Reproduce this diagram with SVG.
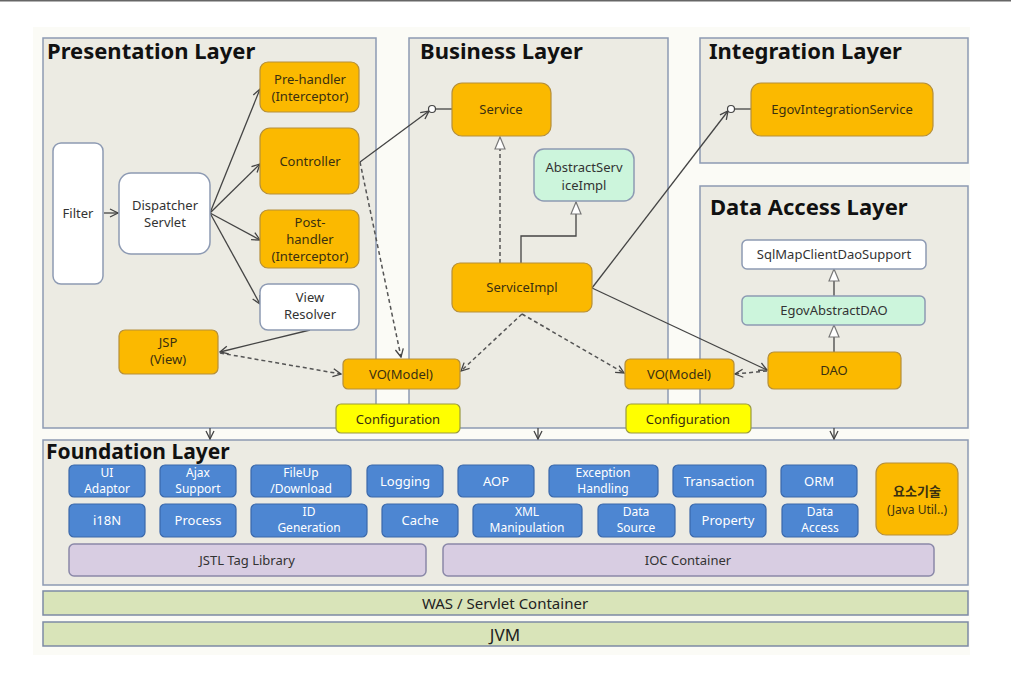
<svg xmlns="http://www.w3.org/2000/svg" width="1011" height="674" viewBox="0 0 1011 674">
<style>
.layer{fill:#ecebe3;stroke:#8d9ab3;stroke-width:1.5}
.title{font-family:"Noto Sans","Open Sans",sans-serif;font-weight:bold;font-size:22px;fill:#111}
.t{font-family:"Noto Sans","Noto Sans CJK KR",sans-serif;font-size:13px;text-anchor:middle;fill:#3a3010}
.tw{font-family:"Noto Sans","Noto Sans CJK KR",sans-serif;font-size:13px;text-anchor:middle;fill:#ffffff}
.tw2{font-family:"Noto Sans","Noto Sans CJK KR",sans-serif;font-size:12px;text-anchor:middle;fill:#ffffff}
.tg{font-family:"Noto Sans","Noto Sans CJK KR",sans-serif;font-size:13px;text-anchor:middle;fill:#333}
.or{fill:#fbb900;stroke:#b58f3a;stroke-width:1.2}
.wh{fill:#ffffff;stroke:#8d9ab3;stroke-width:1.5}
.gr{fill:#ccf5dc;stroke:#8d9ab3;stroke-width:1.5}
.ye{fill:#ffff00;stroke:#9a9a40;stroke-width:1.2}
.bl{fill:#4d86d2;stroke:#3a68aa;stroke-width:1.2}
.pu{fill:#d8cde2;stroke:#8a88a8;stroke-width:1.5}
.gb{fill:#d9e4b9;stroke:#7d8aa5;stroke-width:1.5}
.ln{fill:none;stroke:#444;stroke-width:1.3}
.dl{fill:none;stroke:#555;stroke-width:1.5;stroke-dasharray:4,3}
</style>
<defs>
<marker id="arr" viewBox="0 0 10 10" refX="9" refY="5" markerWidth="10" markerHeight="10" markerUnits="userSpaceOnUse" orient="auto">
<path d="M1,1 L9,5 L1,9" fill="none" stroke="#444" stroke-width="1.3"/>
</marker>
<marker id="tri" viewBox="0 0 14 12" refX="13" refY="6" markerWidth="14" markerHeight="12" markerUnits="userSpaceOnUse" orient="auto">
<path d="M1,1 L13,6 L1,11 Z" fill="#fff" stroke="#777" stroke-width="1.2"/>
</marker>
</defs>
<rect x="0" y="0" width="1011" height="674" fill="#ffffff"/>
<line x1="0" y1="0.5" x2="1011" y2="0.5" stroke="#666" stroke-width="2"/>
<rect x="33" y="27" width="937" height="628" fill="#fbfbf6"/>

<g id="presentation-layer">
<rect class="layer" x="43" y="38" width="333" height="390"/>
<text class="title" x="47" y="59">Presentation Layer</text>
</g>
<g id="business-layer">
<rect class="layer" x="409" y="38" width="259" height="390"/>
<text class="title" x="420" y="59">Business Layer</text>
</g>
<g id="integration-layer">
<rect class="layer" x="700" y="38" width="268" height="125"/>
<text class="title" x="709" y="59">Integration Layer</text>
</g>
<g id="data-access-layer">
<rect class="layer" x="700" y="186" width="268" height="242"/>
<text class="title" x="710" y="215">Data Access Layer</text>
</g>
<g id="foundation-layer">
<rect class="layer" x="43" y="440" width="925" height="145"/>
<text class="title" x="46" y="459" style="font-size:21px">Foundation Layer</text>
</g>

<g id="connectors">
<line class="ln" x1="104" y1="213" x2="118" y2="213" marker-end="url(#arr)"/>
<line class="ln" x1="210" y1="213" x2="260" y2="89" marker-end="url(#arr)"/>
<line class="ln" x1="210" y1="213" x2="260" y2="164" marker-end="url(#arr)"/>
<line class="ln" x1="210" y1="213" x2="260" y2="240" marker-end="url(#arr)"/>
<line class="ln" x1="210" y1="213" x2="260" y2="304" marker-end="url(#arr)"/>
<line class="ln" x1="310" y1="330" x2="220" y2="352" marker-end="url(#arr)"/>
<line class="dl" x1="220" y1="353" x2="341" y2="374" marker-end="url(#arr)"/>
<line class="dl" x1="360" y1="162" x2="401" y2="357" marker-end="url(#arr)"/>
<line class="ln" x1="360" y1="162" x2="429" y2="111" marker-end="url(#arr)"/>
<line class="ln" x1="436" y1="109" x2="452" y2="109"/>
<circle cx="432" cy="109" r="3.5" fill="#fff" stroke="#444" stroke-width="1.2"/>
<line class="dl" x1="500" y1="263" x2="500" y2="137" marker-end="url(#tri)"/>
<polyline class="ln" points="521,263 521,236 576,236 576,202" marker-end="url(#tri)"/>
<line class="ln" x1="592" y1="288" x2="728" y2="111" marker-end="url(#arr)"/>
<line class="ln" x1="735" y1="109" x2="751" y2="109"/>
<circle cx="731" cy="109" r="3.5" fill="#fff" stroke="#444" stroke-width="1.2"/>
<line class="ln" x1="592" y1="288" x2="767" y2="370" marker-end="url(#arr)"/>
<line class="dl" x1="522" y1="314" x2="461" y2="371" marker-end="url(#arr)"/>
<line class="dl" x1="522" y1="314" x2="624" y2="373" marker-end="url(#arr)"/>
<line class="dl" x1="767" y1="371" x2="735" y2="374" marker-end="url(#arr)"/>
<line class="ln" x1="834" y1="296" x2="834" y2="269" marker-end="url(#tri)"/>
<line class="ln" x1="834" y1="352" x2="834" y2="325" marker-end="url(#tri)"/>
<line class="ln" x1="210" y1="428" x2="210" y2="439" marker-end="url(#arr)"/>
<line class="ln" x1="538" y1="428" x2="538" y2="439" marker-end="url(#arr)"/>
<line class="ln" x1="834" y1="428" x2="834" y2="439" marker-end="url(#arr)"/>
</g>

<g id="filter"><rect class="wh" x="53" y="143" width="50" height="141" rx="8"/><text class="tg" x="78" y="218">Filter</text></g>
<g id="dispatcher-servlet"><rect class="wh" x="119" y="173" width="91" height="81" rx="12"/><text class="tg" x="165" y="210">Dispatcher</text><text class="tg" x="165" y="227">Servlet</text></g>
<g id="pre-handler"><rect class="or" x="260" y="62" width="99" height="50" rx="8"/><text class="t" x="310" y="84">Pre-handler</text><text class="t" x="310" y="101">(Interceptor)</text></g>
<g id="controller"><rect class="or" x="260" y="128" width="99" height="66" rx="10"/><text class="t" x="310" y="166">Controller</text></g>
<g id="post-handler"><rect class="or" x="260" y="210" width="99" height="58" rx="8"/><text class="t" x="310" y="227">Post-</text><text class="t" x="310" y="244">handler</text><text class="t" x="310" y="261">(Interceptor)</text></g>
<g id="view-resolver"><rect class="wh" x="260" y="284" width="99" height="46" rx="8"/><text class="tg" x="310" y="302">View</text><text class="tg" x="310" y="319">Resolver</text></g>
<g id="jsp"><rect class="or" x="119" y="330" width="99" height="44" rx="6"/><text class="t" x="168" y="347">JSP</text><text class="t" x="168" y="364">(View)</text></g>
<g id="vo-model-left"><rect class="or" x="343" y="359" width="117" height="30" rx="5"/><text class="t" x="401" y="379">VO(Model)</text></g>
<g id="configuration-left"><rect class="ye" x="336" y="404" width="124" height="29" rx="5"/><text class="t" x="398" y="424">Configuration</text></g>
<g id="service"><rect class="or" x="452" y="83" width="99" height="53" rx="10"/><text class="t" x="501" y="114">Service</text></g>
<g id="abstract-service-impl"><rect class="gr" x="534" y="149" width="100" height="52" rx="10"/><text class="tg" x="584" y="172">AbstractServ</text><text class="tg" x="584" y="190">iceImpl</text></g>
<g id="service-impl"><rect class="or" x="452" y="263" width="140" height="49" rx="8"/><text class="t" x="522" y="292">ServiceImpl</text></g>
<g id="vo-model-right"><rect class="or" x="625" y="359" width="109" height="30" rx="5"/><text class="t" x="679" y="379">VO(Model)</text></g>
<g id="configuration-right"><rect class="ye" x="626" y="404" width="125" height="29" rx="5"/><text class="t" x="688" y="424">Configuration</text></g>
<g id="egov-integration-service"><rect class="or" x="751" y="83" width="182" height="53" rx="10"/><text class="t" x="842" y="114">EgovIntegrationService</text></g>
<g id="sqlmap-client-dao-support"><rect class="wh" x="742" y="240" width="184" height="29" rx="5"/><text class="tg" x="834" y="259">SqlMapClientDaoSupport</text></g>
<g id="egov-abstract-dao"><rect class="gr" x="742" y="296" width="183" height="29" rx="5"/><text class="tg" x="834" y="315">EgovAbstractDAO</text></g>
<g id="dao"><rect class="or" x="768" y="352" width="133" height="37" rx="6"/><text class="t" x="834" y="375">DAO</text></g>

<g id="ui-adaptor"><rect class="bl" x="69" y="465" width="76" height="32" rx="5"/><text class="tw2" x="107" y="477">UI</text><text class="tw2" x="107" y="493">Adaptor</text></g>
<g id="ajax-support"><rect class="bl" x="160" y="465" width="76" height="32" rx="5"/><text class="tw2" x="198" y="477">Ajax</text><text class="tw2" x="198" y="493">Support</text></g>
<g id="fileup-download"><rect class="bl" x="251" y="465" width="100" height="32" rx="5"/><text class="tw2" x="301" y="477">FileUp</text><text class="tw2" x="301" y="493">/Download</text></g>
<g id="logging"><rect class="bl" x="367" y="465" width="76" height="32" rx="5"/><text class="tw" x="405" y="486">Logging</text></g>
<g id="aop"><rect class="bl" x="458" y="465" width="76" height="32" rx="5"/><text class="tw" x="496" y="486">AOP</text></g>
<g id="exception-handling"><rect class="bl" x="549" y="465" width="109" height="32" rx="5"/><text class="tw2" x="603" y="477">Exception</text><text class="tw2" x="603" y="493">Handling</text></g>
<g id="transaction"><rect class="bl" x="673" y="465" width="93" height="32" rx="5"/><text class="tw" x="719" y="486">Transaction</text></g>
<g id="orm"><rect class="bl" x="781" y="465" width="76" height="32" rx="5"/><text class="tw" x="819" y="486">ORM</text></g>
<g id="i18n"><rect class="bl" x="69" y="504" width="76" height="33" rx="5"/><text class="tw" x="107" y="525">i18N</text></g>
<g id="process"><rect class="bl" x="160" y="504" width="76" height="33" rx="5"/><text class="tw" x="198" y="525">Process</text></g>
<g id="id-generation"><rect class="bl" x="251" y="504" width="116" height="33" rx="5"/><text class="tw2" x="309" y="516">ID</text><text class="tw2" x="309" y="532">Generation</text></g>
<g id="cache"><rect class="bl" x="382" y="504" width="76" height="33" rx="5"/><text class="tw" x="420" y="525">Cache</text></g>
<g id="xml-manipulation"><rect class="bl" x="473" y="504" width="109" height="33" rx="5"/><text class="tw2" x="527" y="516">XML</text><text class="tw2" x="527" y="532">Manipulation</text></g>
<g id="data-source"><rect class="bl" x="598" y="504" width="77" height="33" rx="5"/><text class="tw2" x="636" y="516">Data</text><text class="tw2" x="636" y="532">Source</text></g>
<g id="property"><rect class="bl" x="690" y="504" width="76" height="33" rx="5"/><text class="tw" x="728" y="525">Property</text></g>
<g id="data-access"><rect class="bl" x="782" y="504" width="76" height="33" rx="5"/><text class="tw2" x="820" y="516">Data</text><text class="tw2" x="820" y="532">Access</text></g>
<g id="element-tech"><rect class="or" x="876" y="463" width="82" height="72" rx="10"/><text class="t" x="917" y="496" style="font-weight:bold">요소기술</text><text class="t" x="917" y="514" style="font-size:12px">(Java Util..)</text></g>
<g id="jstl-tag-library"><rect class="pu" x="69" y="544" width="357" height="32" rx="5"/><text class="tg" x="247" y="565">JSTL Tag Library</text></g>
<g id="ioc-container"><rect class="pu" x="443" y="544" width="491" height="32" rx="5"/><text class="tg" x="688" y="565">IOC Container</text></g>

<g id="was-servlet-container"><rect class="gb" x="43" y="591" width="925" height="24"/><text class="tg" x="505" y="609" style="font-size:15px;fill:#222">WAS / Servlet Container</text></g>
<g id="jvm"><rect class="gb" x="43" y="622" width="925" height="24"/><text class="tg" x="505" y="641" style="font-size:17px;fill:#222">JVM</text></g>
</svg>
